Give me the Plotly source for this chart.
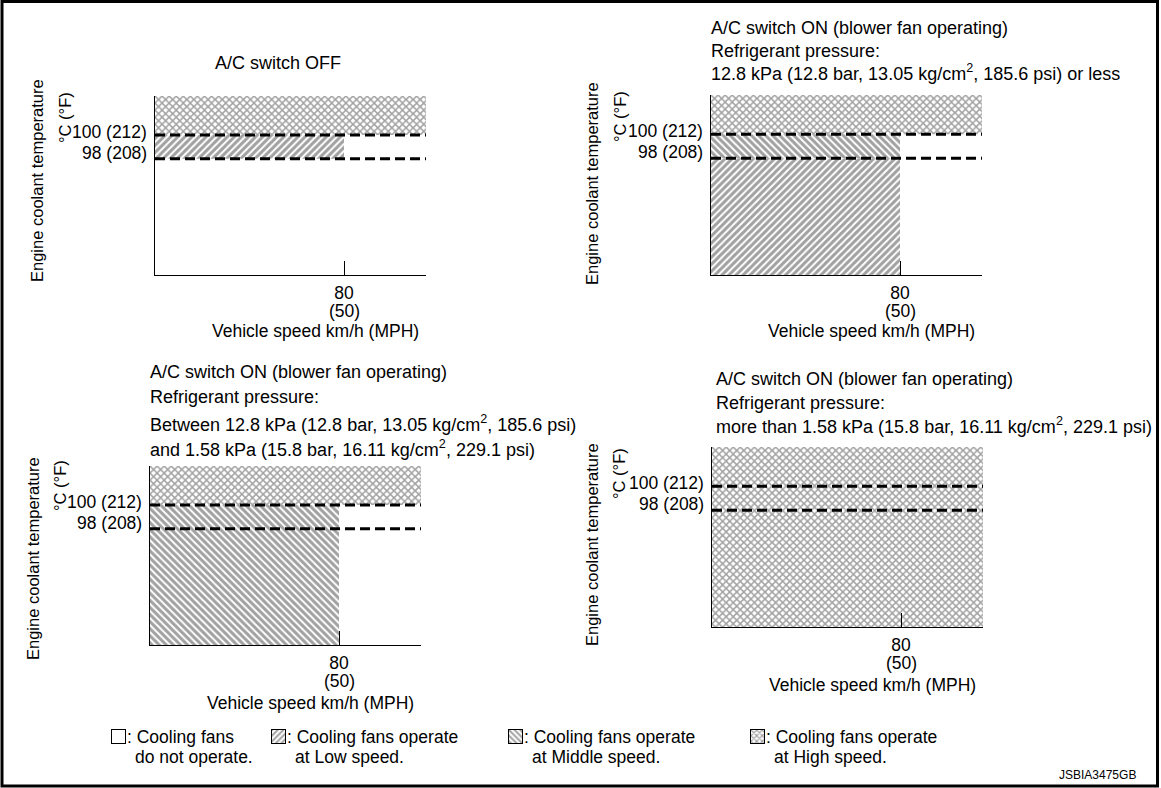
import plotly.graph_objects as go

W, H = 1161, 788
FONT = "Liberation Sans, Arial, Helvetica, sans-serif"
FS = 17.5
FS_TITLE = 18
FS_YTITLE = 16.5

# ---- data ----
SPEED_KMH = 80
SPEED_MPH = 50
TEMP_LOW_C, TEMP_LOW_F = 98, 208
TEMP_HIGH_C, TEMP_HIGH_F = 100, 212

speed_range = [0, 114.7]
temp_range = [88.3, 103.25]
SPEED_MAX = speed_range[1]
TEMP_MIN, TEMP_MAX = temp_range

panel_titles = [
    ["A/C switch OFF"],
    ["A/C switch ON (blower fan operating)",
     "Refrigerant pressure:",
     "12.8 kPa (12.8 bar, 13.05 kg/cm<sup>2</sup>, 185.6 psi) or less"],
    ["A/C switch ON (blower fan operating)",
     "Refrigerant pressure:",
     "Between 12.8 kPa (12.8 bar, 13.05 kg/cm<sup>2</sup>, 185.6 psi)",
     "and 1.58 kPa (15.8 bar, 16.11 kg/cm<sup>2</sup>, 229.1 psi)"],
    ["A/C switch ON (blower fan operating)",
     "Refrigerant pressure:",
     "more than 1.58 kPa (15.8 bar, 16.11 kg/cm<sup>2</sup>, 229.1 psi)"],
]

# fan operating zones: one rectangle per entry (speed from 0)
zone_panel = [0, 0, 1, 1, 1, 2, 2, 3]
zone_mode = ["High", "Low", "High", "Middle", "Low", "High", "Middle", "High"]
zone_speed_to = [SPEED_MAX, 80, SPEED_MAX, 80, 80, SPEED_MAX, 80, SPEED_MAX]
zone_temp_from = [100, 98, 100, 98, TEMP_MIN, 100, TEMP_MIN, TEMP_MIN]
zone_temp_to = [TEMP_MAX, 100, TEMP_MAX, 100, 98, TEMP_MAX, 100, TEMP_MAX]

legend_modes = ["Off", "Low", "Middle", "High"]
legend_line1 = [": Cooling fans", ": Cooling fans operate",
                ": Cooling fans operate", ": Cooling fans operate"]
legend_line2 = ["do not operate.", "at Low speed.", "at Middle speed.", "at High speed."]

PATTERN = {"Low": "/", "Middle": "\\", "High": "x"}
PATTERN_SIZE = {"Low": 5, "Middle": 5, "High": 5}
PATTERN_SOLID = {"Low": 0.6, "Middle": 0.6, "High": 0.5}

# ---- layout positions (pixels) ----
PANELS = [
    dict(l=155, r=426, t=96, b=275),
    dict(l=711, r=982, t=95, b=275),
    dict(l=150, r=421, t=466, b=645),
    dict(l=712, r=983, t=447, b=627),
]
TITLE_POS = [
    (278, [63]),
    (709, [28, 51, 73]),
    (148, [372, 397, 423, 448]),
    (714, [379, 403, 425]),
]
UNIT_POS = [(65, 118), (620, 117), (60, 486), (619, 474)]
YTITLE_POS = [(37, 181), (592, 184), (33, 559), (592, 545)]
XTITLE_DY = [56, 56, 58, 58]
XTITLE_DX = 25
LEG_BOX_X = [112, 272, 509, 751]
LEG_BOX_Y = 730
LEG_BOX = 13


def px_x(p):
    return p / W


def px_y(p):
    return 1 - p / H


def ax_names(n):
    s = "" if n == 1 else str(n)
    return "xaxis" + s, "yaxis" + s, "x" + s, "y" + s


def txt(text, x, y, size=FS, **kw):
    d = dict(text=text, x=x, y=y, xref="paper", yref="paper", showarrow=False,
             font=dict(family=FONT, size=size, color="black"),
             xanchor="left", yanchor="middle")
    d.update(kw)
    return d


fig = go.Figure()
axes = {}
annotations = []

for i, p in enumerate(PANELS):
    xa, ya, xr, yr = ax_names(i + 1)
    axes[xa] = dict(
        domain=[px_x(p["l"]), px_x(p["r"])], anchor=yr, range=speed_range,
        showline=True, linecolor="black", linewidth=1, showgrid=False, zeroline=False,
        tickvals=[SPEED_KMH], ticktext=[str(SPEED_KMH)],
        ticks="inside", ticklen=14, tickwidth=1, tickcolor="black", ticklabelstandoff=2,
        tickfont=dict(family=FONT, size=FS, color="black"), fixedrange=True,
    )
    axes[ya] = dict(
        domain=[px_y(p["b"]), px_y(p["t"])], anchor=xr, range=temp_range,
        showline=True, linecolor="black", linewidth=1, showgrid=False, zeroline=False,
        showticklabels=False, ticks="", fixedrange=True,
    )

    # mph under the km/h tick
    annotations.append(dict(
        text=f"({SPEED_MPH})", x=SPEED_KMH, y=px_y(p["b"] + 36), xref=xr, yref="paper",
        showarrow=False, xanchor="center", yanchor="middle",
        font=dict(family=FONT, size=FS, color="black"),
    ))

    # threshold tick labels
    for t_c, t_f, dy in [(TEMP_HIGH_C, TEMP_HIGH_F, 3), (TEMP_LOW_C, TEMP_LOW_F, 6)]:
        annotations.append(dict(
            text=f"{t_c} ({t_f})", x=0, y=t_c, xref=xr, yref=yr, showarrow=False,
            xanchor="right", yanchor="middle", xshift=-6, yshift=dy,
            font=dict(family=FONT, size=FS, color="black"),
        ))

    tx, tys = TITLE_POS[i]
    for line, ty in zip(panel_titles[i], tys):
        anchor = "center" if i == 0 else "left"
        annotations.append(txt(line, px_x(tx), px_y(ty), size=FS_TITLE, xanchor=anchor))

    ux, uy = UNIT_POS[i]
    annotations.append(txt("°C (°F)", px_x(ux), px_y(uy), size=FS_YTITLE,
                           xanchor="center", textangle=-90))
    ex, ey = YTITLE_POS[i]
    annotations.append(txt("Engine coolant temperature", px_x(ex), px_y(ey),
                           size=FS_YTITLE, xanchor="center", textangle=-90))
    annotations.append(txt("Vehicle speed km/h (MPH)",
                           px_x((p["l"] + p["r"]) / 2 + XTITLE_DX),
                           px_y(p["b"] + XTITLE_DY[i]), xanchor="center"))

# hatched zones
for k, m in enumerate(zone_mode):
    _, _, xr, yr = ax_names(zone_panel[k] + 1)
    fig.add_trace(go.Bar(
        x=[zone_speed_to[k] / 2], width=[zone_speed_to[k]],
        y=[zone_temp_to[k] - zone_temp_from[k]], base=[zone_temp_from[k]],
        xaxis=xr, yaxis=yr,
        marker=dict(color="black", line=dict(width=0),
                    pattern=dict(shape=PATTERN[m], bgcolor="white",
                                 size=PATTERN_SIZE[m], solidity=PATTERN_SOLID[m])),
        showlegend=False, hoverinfo="skip",
    ))

# dashed threshold lines
for i in range(len(PANELS)):
    _, _, xr, yr = ax_names(i + 1)
    for t_c in [TEMP_HIGH_C, TEMP_LOW_C]:
        fig.add_trace(go.Scatter(
            x=speed_range, y=[t_c, t_c], xaxis=xr, yaxis=yr, mode="lines",
            line=dict(color="black", width=3, dash="10px,5px"),
            showlegend=False, hoverinfo="skip",
        ))

# legend swatches: tiny boxed axes
for j, m in enumerate(legend_modes):
    xa, ya, xr, yr = ax_names(len(PANELS) + j + 1)
    x0 = LEG_BOX_X[j]
    axes[xa] = dict(domain=[px_x(x0), px_x(x0 + LEG_BOX)], anchor=yr, range=[0, 1],
                    showline=True, mirror=True, linecolor="black", linewidth=1,
                    showgrid=False, zeroline=False, showticklabels=False, ticks="",
                    fixedrange=True)
    axes[ya] = dict(domain=[px_y(LEG_BOX_Y + LEG_BOX), px_y(LEG_BOX_Y)], anchor=xr,
                    range=[0, 1], showline=True, mirror=True, linecolor="black",
                    linewidth=1, showgrid=False, zeroline=False, showticklabels=False,
                    ticks="", fixedrange=True)
    if m == "Off":
        marker = dict(color="white", line=dict(width=0))
    else:
        marker = dict(color="black", line=dict(width=0),
                      pattern=dict(shape=PATTERN[m], bgcolor="white",
                                   size=4, solidity=0.5))
    fig.add_trace(go.Bar(x=[0.5], width=[1], y=[1], base=[0], xaxis=xr, yaxis=yr,
                         marker=marker, showlegend=False, hoverinfo="skip"))
    annotations.append(txt(legend_line1[j], px_x(x0 + LEG_BOX), px_y(LEG_BOX_Y + 6.5)))
    annotations.append(txt(legend_line2[j], px_x(x0 + LEG_BOX + 8), px_y(757)))

annotations.append(dict(
    text="JSBIA3475GB", x=px_x(1138), y=px_y(775), xref="paper", yref="paper",
    showarrow=False, xanchor="right", yanchor="middle",
    font=dict(family="Liberation Sans Narrow, Liberation Sans, Arial", size=12, color="black"),
))

fig.update_layout(
    width=W, height=H, margin=dict(l=0, r=0, t=0, b=0),
    paper_bgcolor="white", plot_bgcolor="white",
    barmode="overlay", showlegend=False,
    annotations=annotations,
    shapes=[dict(type="rect", xref="paper", yref="paper",
                 x0=px_x(2), x1=px_x(1157.5), y0=px_y(786), y1=px_y(1.5),
                 line=dict(color="black", width=3))],
    **axes,
)

fig.write_html("out.html", config={"displayModeBar": False},
               post_script="document.body.style.margin='0px';")
